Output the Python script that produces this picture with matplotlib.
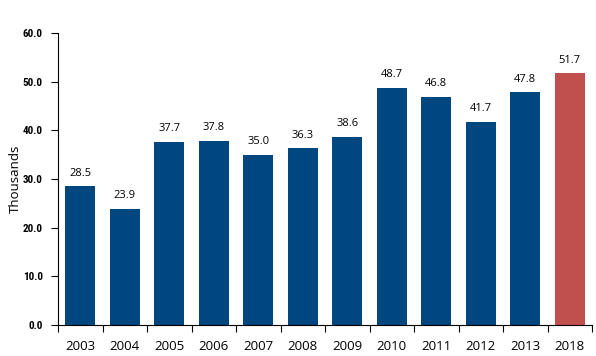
import matplotlib
matplotlib.use("Agg")
import matplotlib.pyplot as plt
import numpy as np
from matplotlib.ticker import FixedLocator

years = ["2003", "2004", "2005", "2006", "2007", "2008", "2009", "2010", "2011", "2012", "2013", "2018"]
values = [28.5, 23.9, 37.7, 37.8, 35.0, 36.3, 38.6, 48.7, 46.8, 41.7, 47.8, 51.7]
colors = ["#00467F"] * 11 + ["#C0504D"]

fig = plt.figure(figsize=(5.96, 3.56), dpi=100)
ax = fig.add_axes([58/596, 1-325/356, (592-58)/596, (325-33)/356])

x = np.arange(len(years))
ax.bar(x, values, width=0.67, color=colors)
for xi, v in zip(x, values):
    ax.text(xi, v + 1.6, f"{v:.1f}", ha="center", va="bottom", fontsize=8,
            family=["Open Sans", "DejaVu Sans"])

ax.set_xlim(-0.5, len(years) - 0.5)
ax.set_ylim(0, 60)
ax.set_yticks(np.arange(0, 61, 10))
ax.set_yticklabels([f"{t:.1f}" for t in np.arange(0, 61, 10)], fontsize=8, fontweight="bold",
                   family=["Roboto Condensed", "Liberation Sans Narrow", "Liberation Sans", "DejaVu Sans"])
ax.set_xticks(x)
ax.set_xticklabels(years, fontsize=9.5, family=["Open Sans", "DejaVu Sans"])
ax.tick_params(axis="x", length=0, pad=11)
ax.xaxis.set_minor_locator(FixedLocator(np.arange(-0.5, len(years), 1.0)))
ax.tick_params(axis="x", which="minor", length=5, direction="out", width=0.8)
ax.tick_params(axis="y", length=5, direction="out", width=0.8, pad=6)
for s in ["top", "right"]:
    ax.spines[s].set_visible(False)
ax.spines["left"].set_linewidth(0.8)
ax.spines["bottom"].set_linewidth(0.8)
ax.set_ylabel("Thousands", fontsize=9.5, family=["Open Sans", "DejaVu Sans"])
ax.yaxis.set_label_coords(-36/534, 0.5)

fig.savefig("out.png", dpi=100)
